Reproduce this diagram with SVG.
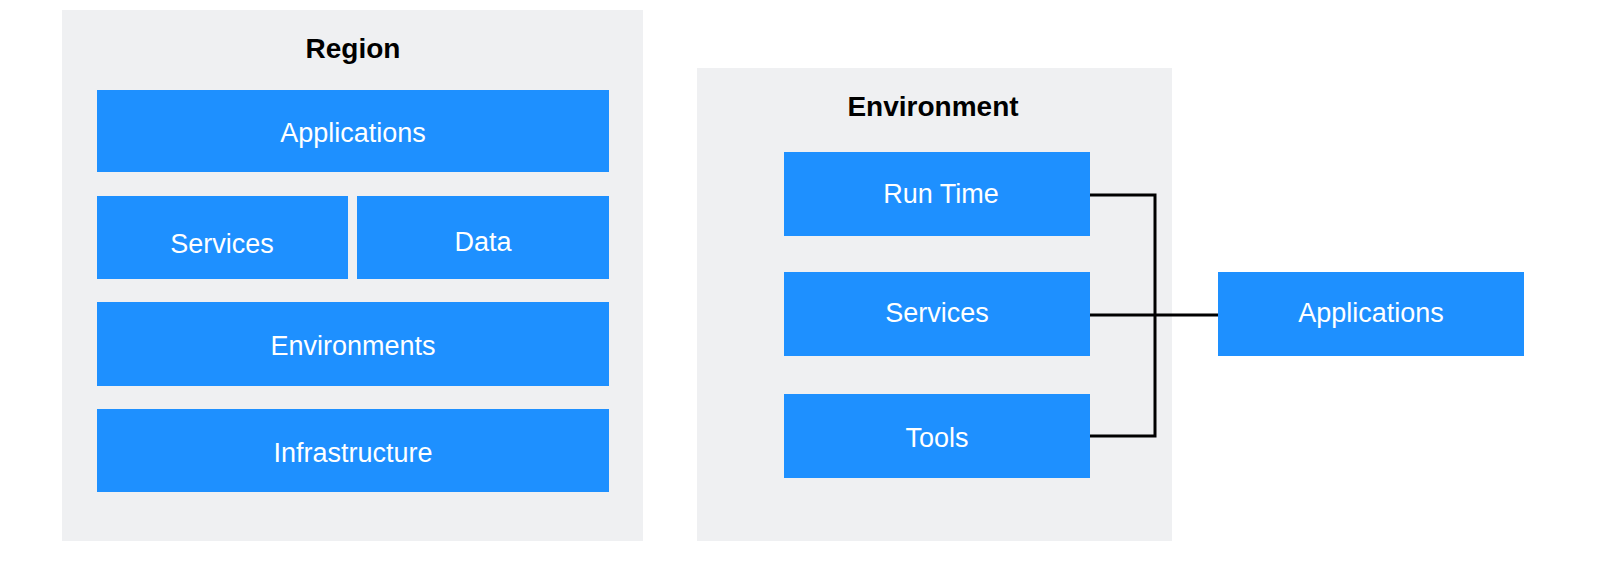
<svg xmlns="http://www.w3.org/2000/svg" width="1600" height="563" viewBox="0 0 1600 563">
<style>
.c{fill:#eff0f2}
.b{fill:#1e90ff}
.t{font-family:"Liberation Sans",Arial,sans-serif;font-size:27px;fill:#fff;text-anchor:middle;dominant-baseline:central}
.h{font-family:"Liberation Sans",Arial,sans-serif;font-size:28px;font-weight:bold;fill:#000;text-anchor:middle;dominant-baseline:central}
.l{fill:none;stroke:#000;stroke-width:3}
</style>
<rect width="1600" height="563" fill="#fff"/>
<g id="region"><rect class="c" x="62" y="10" width="581" height="531"/><text class="h" x="353" y="48">Region</text></g>
<g id="r-applications"><rect class="b" x="97" y="90" width="512" height="82"/><text class="t" x="353" y="133">Applications</text></g>
<g id="r-services"><rect class="b" x="97" y="196" width="251" height="83"/><text class="t" x="222" y="244">Services</text></g>
<g id="r-data"><rect class="b" x="357" y="196" width="252" height="83"/><text class="t" x="483" y="242">Data</text></g>
<g id="r-environments"><rect class="b" x="97" y="302" width="512" height="84"/><text class="t" x="353" y="346">Environments</text></g>
<g id="r-infrastructure"><rect class="b" x="97" y="409" width="512" height="83"/><text class="t" x="353" y="453">Infrastructure</text></g>
<g id="environment"><rect class="c" x="697" y="68" width="475" height="473"/><text class="h" x="933" y="106">Environment</text></g>
<g id="runtime"><rect class="b" x="784" y="152" width="306" height="84"/><text class="t" x="941" y="194">Run Time</text></g>
<g id="e-services"><rect class="b" x="784" y="272" width="306" height="84"/><text class="t" x="937" y="313">Services</text></g>
<g id="tools"><rect class="b" x="784" y="394" width="306" height="84"/><text class="t" x="937" y="438">Tools</text></g>
<g id="applications"><rect class="b" x="1218" y="272" width="306" height="84"/><text class="t" x="1371" y="313">Applications</text></g>
<g id="connectors">
<path class="l" d="M1090 195H1155V436H1090"/>
<path class="l" d="M1090 315H1218"/>
</g>
</svg>
